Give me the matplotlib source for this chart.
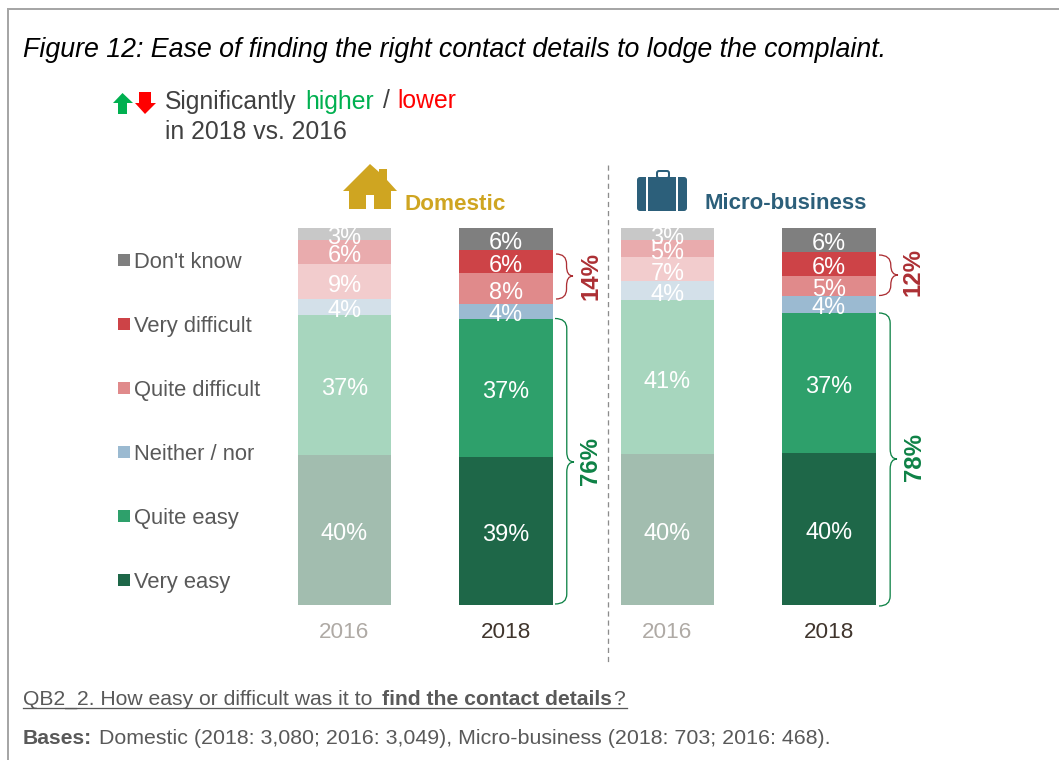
import matplotlib
matplotlib.use("Agg")
import matplotlib.pyplot as plt
from matplotlib.patches import Polygon, Rectangle, FancyBboxPatch, PathPatch
from matplotlib.path import Path

plt.rcParams['font.family'] = ['Liberation Sans', 'DejaVu Sans']

W, H = 1059, 760
categories = ['Very easy', 'Quite easy', 'Neither / nor', 'Quite difficult', 'Very difficult', "Don't know"]
legend_order = ["Don't know", 'Very difficult', 'Quite difficult', 'Neither / nor', 'Quite easy', 'Very easy']
bar_names = ['2016', '2018', '2016', '2018']

domestic_2016 = [39.6, 37.2, 4.2, 9.3, 6.4, 3.3]
domestic_2018 = [39.0, 36.8, 4.0, 8.1, 6.1, 6.0]
micro_2016 = [39.8, 40.9, 5.0, 6.4, 4.6, 3.2]
micro_2018 = [40.1, 37.3, 4.5, 5.2, 6.5, 6.4]
series = [domestic_2016, domestic_2018, micro_2016, micro_2018]

domestic_2016_labels = ['40%', '37%', '4%', '9%', '6%', '3%']
domestic_2018_labels = ['39%', '37%', '4%', '8%', '6%', '6%']
micro_2016_labels = ['40%', '41%', '4%', '7%', '5%', '3%']
micro_2018_labels = ['40%', '37%', '4%', '5%', '6%', '6%']
labels = [domestic_2016_labels, domestic_2018_labels, micro_2016_labels, micro_2018_labels]

colors_2018 = ['#1E6748', '#2EA06B', '#9BBAD1', '#E08A8B', '#CD4347', '#7F7F7F']
colors_2016 = ['#A2BDAF', '#A7D6BE', '#D3E0E9', '#F2CCCD', '#E9ABAD', '#C8C8C8']
colors = [colors_2016, colors_2018, colors_2016, colors_2018]
legend_colors = ['#7F7F7F', '#CD4347', '#E08A8B', '#9BBAD1', '#2EA06B', '#1E6748']

def pt(px):
    return px * 72 / 100

fig = plt.figure(figsize=(W / 100, H / 100), dpi=100, facecolor='white')

# chart axes: x spans four bar slots, y spans 0-100 % from the bar base to the bar top
spacing = 161.5
left_px = 344.5 - spacing / 2
ax = fig.add_axes([left_px / W, (H - 604.5) / H, 4 * spacing / W, 377 / H])
ax.set_xlim(-0.5, 3.5)
ax.set_ylim(0, 100)
ax.set_yticks([])
for s in ax.spines.values():
    s.set_visible(False)
ax.set_xticks(range(4))
ax.set_xticklabels(bar_names, fontsize=pt(22.5))
ax.tick_params(axis='x', length=0, pad=pt(17))
for t, c in zip(ax.get_xticklabels(), ['#AFAAA5', '#40352D', '#AFAAA5', '#40352D']):
    t.set_color(c)

for i, vals in enumerate(series):
    bottom = 0
    for j, v in enumerate(vals):
        ax.bar(i, v, width=93.5 / spacing, bottom=bottom, color=colors[i][j],
               edgecolor='none', linewidth=0)
        ax.text(i, bottom + v / 2 - 1.0, labels[i][j], color='white', ha='center', va='center',
                fontsize=pt(23.5))
        bottom += v

# overlay in pixel coordinates for furniture
ov = fig.add_axes([0, 0, 1, 1], facecolor='none')
ov.set_xlim(0, W)
ov.set_ylim(H, 0)
ov.axis('off')

ov.plot([8, 8, W], [H, 8.5, 8.5], color='#A6A6A6', lw=pt(2), solid_joinstyle='miter')
ov.plot([607.5, 607.5], [165, 663], color='#8C8C8C', lw=pt(1.3), dashes=(4, 3))

ov.text(23, 57, 'Figure 12: Ease of finding the right contact details to lodge the complaint.',
        fontsize=pt(26.7), style='italic', color='black', va='baseline')

# significance key
ov.add_patch(Polygon([(118, 114), (118, 103), (113, 103), (122.5, 93), (133, 103), (127, 103), (127, 114)],
                     fc='#00B050', ec='none'))
ov.add_patch(Polygon([(139, 92), (139, 103), (135, 103), (145, 114), (156, 103), (151, 103), (151, 92)],
                     fc='#FF0000', ec='none'))
ov.text(165, 108.5, 'Significantly', fontsize=pt(24.8), color='#404040', va='baseline')
ov.text(305, 108.5, 'higher', fontsize=pt(24.8), color='#00B050', va='baseline')
ov.text(383, 108.5, '/', fontsize=pt(24.8), color='#404040', va='baseline')
ov.text(397, 108.5, 'lower', fontsize=pt(24.8), color='#FF0000', va='baseline')
ov.text(165, 139, 'in 2018 vs. 2016', fontsize=pt(24.8), color='#404040', va='baseline')

# house icon
gold = '#CFA521'
ov.add_patch(Polygon([(343, 191), (370, 164), (379, 172), (379, 169), (387, 169), (387, 180), (397, 191),
                      (391, 191), (391, 209), (374, 209), (374, 195), (366, 195), (366, 209),
                      (349, 209), (349, 191)], fc=gold, ec='none'))
ov.text(404, 210, 'Domestic', fontsize=pt(22.5), weight='bold', color=gold, va='baseline')

# briefcase icon
blue = '#2C5F7A'
ov.add_patch(FancyBboxPatch((639, 179), 46, 30, boxstyle='round,pad=2,rounding_size=3', fc=blue, ec='none'))
ov.add_patch(FancyBboxPatch((657, 171), 12, 7, boxstyle='round,pad=0,rounding_size=2', fc='none', ec=blue, lw=pt(2)))
ov.add_patch(Rectangle((646, 176), 2, 36, fc='white', ec='none'))
ov.add_patch(Rectangle((676, 176), 2, 36, fc='white', ec='none'))
ov.text(704, 209, 'Micro-business', fontsize=pt(22.3), weight='bold', color=blue, va='baseline')

# legend
for y, name, c in zip([260, 324, 388, 452, 516, 580], legend_order, legend_colors):
    ov.add_patch(Rectangle((118, y - 6), 11.5, 12, fc=c, ec='none'))
    ov.text(134, y + 7.6, name, fontsize=pt(22), color='#595959', va='baseline')

# braces
def brace(x0, x1, top, bottom, mid, color):
    xm = x0 + (x1 - x0) * 0.62
    r = min(10, (bottom - top) / 4)
    verts = [(x0, top), (xm, top), (xm, top + r),
             (xm, mid - r), (xm, mid), (x1, mid),
             (xm, mid), (xm, mid + r),
             (xm, bottom - r), (xm, bottom), (x0, bottom)]
    codes = [Path.MOVETO, Path.CURVE3, Path.CURVE3,
             Path.LINETO, Path.CURVE3, Path.CURVE3,
             Path.CURVE3, Path.CURVE3,
             Path.LINETO, Path.CURVE3, Path.CURVE3]
    ov.add_patch(PathPatch(Path(verts, codes), fc='none', ec=color, lw=pt(1.3)))

red, green = '#AC2F34', '#0E8246'
brace(556, 573, 254, 299, 276, red)
brace(555, 574, 318.5, 604, 462, green)
brace(879, 898, 255, 295.5, 275, red)
brace(879, 897, 313, 606, 459, green)
ov.text(591, 276, '14%', rotation=90, fontsize=pt(24), weight='bold', color=red, ha='center', va='center')
ov.text(591, 461, '76%', rotation=90, fontsize=pt(24), weight='bold', color=green, ha='center', va='center')
ov.text(913, 272, '12%', rotation=90, fontsize=pt(24), weight='bold', color=red, ha='center', va='center')
ov.text(915, 457, '78%', rotation=90, fontsize=pt(24), weight='bold', color=green, ha='center', va='center')

# footer
foot = '#595959'
ov.text(23, 705, 'QB2_2. How easy or difficult was it to ', fontsize=pt(21.2), color=foot, va='baseline')
ov.text(382, 705, 'find the contact details', fontsize=pt(21.2), weight='bold', color=foot, va='baseline')
ov.text(613, 705, '?', fontsize=pt(21.2), color=foot, va='baseline')
ov.plot([23, 627], [708, 708], color=foot, lw=pt(1.3))
ov.text(23, 744, 'Bases:', fontsize=pt(21.2), weight='bold', color=foot, va='baseline')
ov.text(99, 744, 'Domestic (2018: 3,080; 2016: 3,049), Micro-business (2018: 703; 2016: 468).',
        fontsize=pt(21.4), color=foot, va='baseline')

fig.savefig('out.png', dpi=100)
